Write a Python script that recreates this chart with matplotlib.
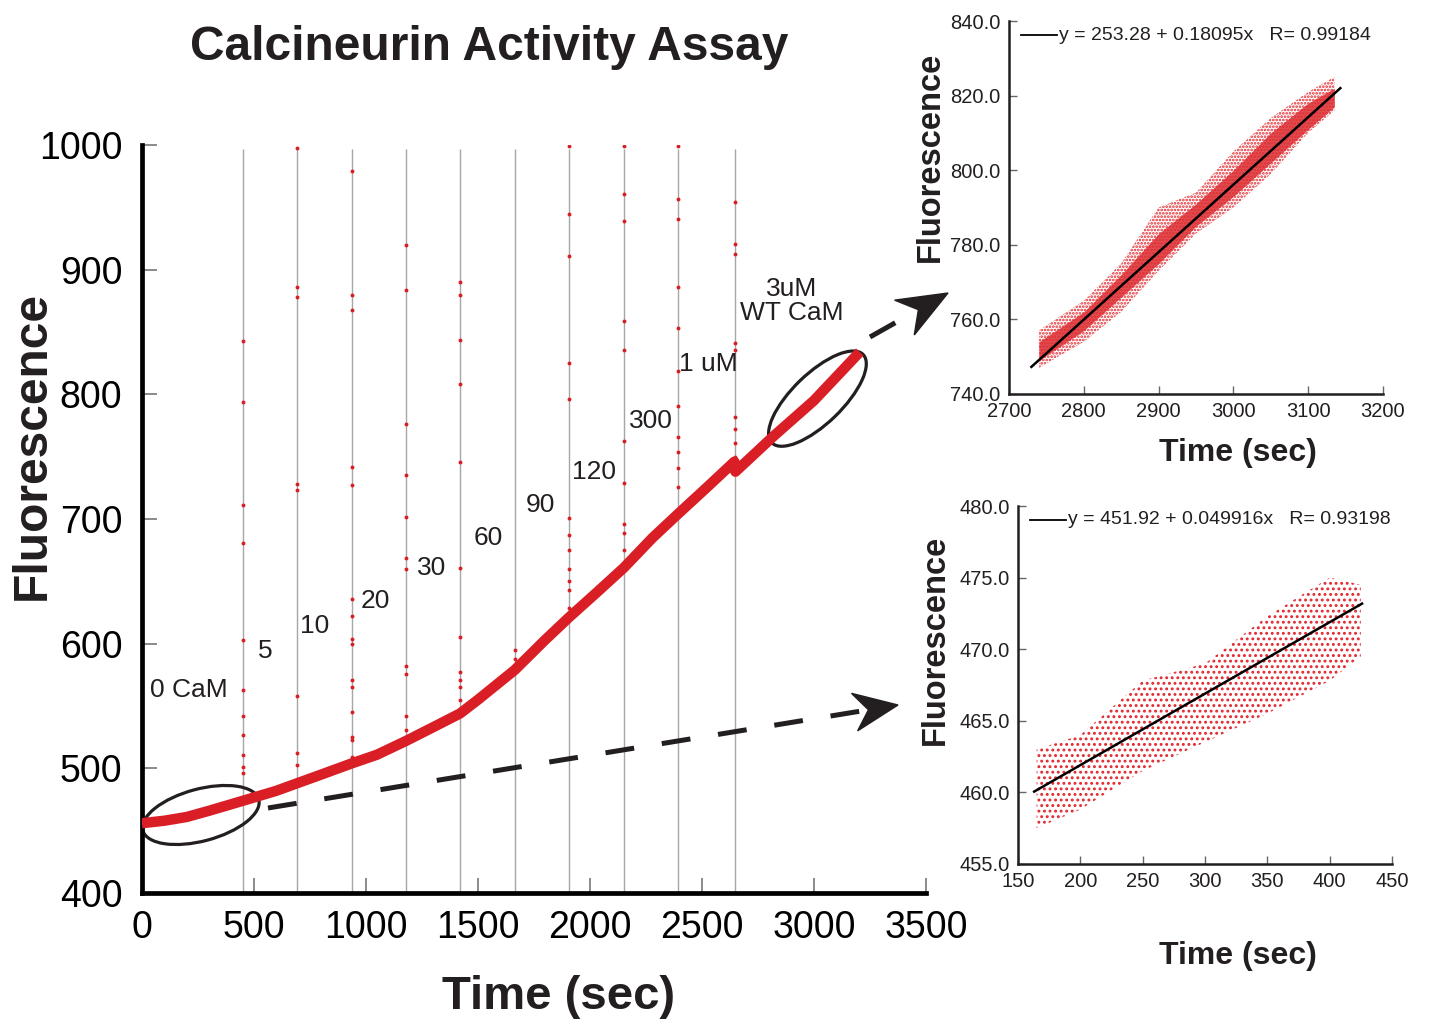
import matplotlib.pyplot as plt
from matplotlib.patches import Ellipse, Polygon
from matplotlib.lines import Line2D
from matplotlib.transforms import ScaledTranslation
import numpy as np

plt.rcParams['font.family'] = ['Liberation Sans', 'DejaVu Sans']

RED = '#d91e26'
INK = '#231f20'

# main trace (time in s, fluorescence)
trace_t = [0, 100, 200, 300, 451, 600, 692, 800, 937, 1050, 1179, 1300, 1420,
           1500, 1665, 1800, 1906, 2030, 2152, 2280, 2393, 2520, 2645, 2650,
           2817, 3000, 3205]
trace_f = [456, 458, 461, 466, 474, 482, 488, 495, 504, 511, 522, 533, 544,
           555, 579, 603, 621, 641, 661, 685, 704, 725, 746, 738,
           766, 795, 834]

# CaM additions (s) and the stray points recorded at each addition
inject_t = [451, 692, 937, 1179, 1420, 1665, 1906, 2152, 2393, 2647]
spikes = [
    [843, 794, 711, 681, 603, 563, 542, 527, 511, 501, 496],
    [998, 886, 878, 728, 723, 558, 512, 503],
    [979, 880, 868, 742, 727, 636, 622, 604, 600, 571, 565, 545, 525, 523, 509],
    [920, 884, 776, 735, 702, 669, 660, 582, 576, 542, 531],
    [890, 880, 844, 808, 746, 661, 605, 577, 571, 565, 555],
    [595, 588],
    [999, 945, 911, 825, 796, 701, 687, 675, 660, 650, 643, 629],
    [999, 961, 939, 859, 836, 763, 729, 696, 689, 675],
    [999, 957, 941, 886, 853, 819, 791, 766, 754, 741, 726],
    [954, 921, 913, 841, 836, 782, 772, 761, 750],
]
dose_labels = ['0 CaM', '5', '10', '20', '30', '60', '90', '120', '300', '1 uM',
               '3uM\nWT CaM']
dose_x = [35, 549, 772, 1040, 1295, 1545, 1781, 2018, 2272, 2527, 2902]
dose_y = [563, 594, 614, 634, 661, 685, 711, 738, 779, 824, 875]

# zoomed windows: cloud envelope (outer and dense core), plus the fit
late_t = [2740, 2800, 2850, 2900, 2950, 3000, 3050, 3100, 3135]
late_lo = [747, 754, 762, 773, 783, 790, 799, 810, 816]
late_hi = [757, 765, 775, 790, 794, 805, 814, 821, 825]
late_core_lo = [749, 757, 766, 775, 785, 793, 802, 811, 817]
late_core_hi = [754, 762, 772, 783, 791, 800, 810, 818, 822]
late_fit = (253.28, 0.18095, 0.99184)
late_fit_x = [2730, 3143]

early_t = [165, 200, 250, 300, 350, 400, 425]
early_lo = [457.5, 458.8, 461.5, 463.5, 465.5, 467.8, 469.5]
early_hi = [463, 464, 467.8, 469, 472.3, 475, 474.5]
early_fit = (451.92, 0.049916, 0.93198)
early_fit_x = [163, 426]

W, H = 1448, 1026
fig = plt.figure(figsize=(W / 100, H / 100), dpi=100)


def fpx(x, y):
    # pixel position (from the top-left) -> figure fraction
    return x / W, 1 - y / H


# ---------------- main panel ----------------
ax = fig.add_axes([0.098, 0.1296, 0.5414, 0.729])
ax.vlines(inject_t, 400, 997, color='#a6a6a6', lw=1.0, zorder=1)
for t, vals in zip(inject_t, spikes):
    ax.plot([t] * len(vals), vals, 'o', ms=2.8, color=RED, mec='none', zorder=2)
ax.plot(trace_t, trace_f, color=RED, lw=7.5, solid_capstyle='butt',
        solid_joinstyle='round', zorder=3)

for lab, x, y in zip(dose_labels, dose_x, dose_y):
    ax.text(x, y, lab, fontsize=19, color=INK, ha='left' if lab == '0 CaM' else 'center',
            va='center', linespacing=1.0)

ax.set_xlim(0, 3500)
ax.set_ylim(400, 1000)
ax.set_xticks(range(0, 3501, 500))
ax.set_yticks(range(400, 1001, 100))
for s in ['top', 'right']:
    ax.spines[s].set_visible(False)
for s in ['left', 'bottom']:
    ax.spines[s].set_linewidth(3.4)
    ax.spines[s].set_color('black')
ax.tick_params(direction='in', length=11, width=1.2, color='#777777',
               labelsize=27, labelcolor='black')
ax.tick_params(axis='y', pad=14)
ax.tick_params(axis='x', pad=12)

# circled regions
for cx, cy, w, h, ang in [(263, 462.6, 1.2, 0.52, 15), (3016, 796.6, 1.27, 0.5, 44)]:
    e = Ellipse((0, 0), w, h, angle=ang, fill=False, ec=INK, lw=2.3,
                transform=fig.dpi_scale_trans + ScaledTranslation(cx, cy, ax.transData))
    e.set_clip_on(False)
    ax.add_artist(e)

fig.text(*fpx(489, 48), 'Calcineurin Activity Assay', fontsize=34.5, weight='bold',
         color=INK, ha='center', va='center')
fig.text(*fpx(559, 997), 'Time (sec)', fontsize=34, weight='bold', color=INK,
         ha='center', va='center')
fig.text(*fpx(32, 445), 'Fluorescence', fontsize=34.5, weight='bold', color=INK,
         ha='center', va='center', rotation=90)


# dashed arrows towards the insets
def dashed_arrow(p0, tip, head_len, head_w):
    p0, tip = np.array(p0, float), np.array(tip, float)
    d = (tip - p0) / np.hypot(*(tip - p0))
    n = np.array([-d[1], d[0]])
    end = tip - 0.8 * head_len * d
    fig.add_artist(Line2D([p0[0] / W, end[0] / W], [1 - p0[1] / H, 1 - end[1] / H],
                          transform=fig.transFigure, color=INK, lw=3.6,
                          linestyle=(0, (5.8, 5.6)), solid_capstyle='butt',
                          dash_capstyle='butt'))
    pts = [tip, tip - head_len * d + head_w * n, tip - 0.68 * head_len * d,
           tip - head_len * d - head_w * n]
    fig.add_artist(Polygon([fpx(*p) for p in pts], closed=True, fc=INK, ec=INK,
                           lw=1, transform=fig.transFigure))


dashed_arrow((268, 808), (898, 705), 44, 19)
dashed_arrow((870, 337), (948, 293), 50, 20)


# ---------------- insets ----------------
def inset(rect, t, lo, hi, fit, fit_x, xticks, yticks, hatch, ylab_xy, xlab_xy):
    a = fig.add_axes(rect)
    with plt.rc_context({'hatch.linewidth': 1.3}):
        a.fill_between(t, lo, hi, facecolor='none', edgecolor='#e2262c', hatch=hatch,
                       linewidth=0)
    fx = np.array(fit_x, float)
    a.plot(fx, fit[0] + fit[1] * fx, color='black', lw=1.8, zorder=4)
    a.set_xlim(xticks[0], xticks[-1])
    a.set_ylim(yticks[0], yticks[-1])
    a.set_xticks(xticks)
    a.set_yticks(yticks)
    a.set_yticklabels(['%.1f' % v for v in yticks])
    for s in ['top', 'right']:
        a.spines[s].set_visible(False)
    for s in ['left', 'bottom']:
        a.spines[s].set_linewidth(1.8)
        a.spines[s].set_color(INK)
    a.tick_params(direction='in', length=6, width=1, color='#666666',
                  labelsize=14.5, labelcolor=INK, pad=6)
    a.plot([0.032, 0.128], [0.962, 0.962], color='black', lw=1.3,
           transform=a.transAxes, clip_on=False)
    a.text(0.135, 0.962, 'y = %.2f + %gx   R= %g' % fit, fontsize=14, color=INK,
           transform=a.transAxes, ha='left', va='center')
    fig.text(*fpx(*ylab_xy), 'Fluorescence', fontsize=23.5, weight='bold', color=INK,
             ha='center', va='center', rotation=90)
    fig.text(*fpx(*xlab_xy), 'Time (sec)', fontsize=23, weight='bold', color=INK,
             ha='center', va='center')
    return a


top = inset([0.6968, 0.616, 0.2583, 0.3635], late_t, late_lo, late_hi, late_fit,
            late_fit_x, list(range(2700, 3201, 100)), list(range(740, 841, 20)),
            '.....', (930, 157), (1238, 453))
top.fill_between(late_t, late_core_lo, late_core_hi, color='#dc2f33', alpha=0.85,
                 linewidth=0, zorder=3)
inset([0.703, 0.1579, 0.2583, 0.3489], early_t, early_lo, early_hi, early_fit,
      early_fit_x, list(range(150, 451, 50)), list(range(455, 481, 5)),
      '...', (935, 640), (1238, 956))

fig.savefig('out.png', dpi=100)
